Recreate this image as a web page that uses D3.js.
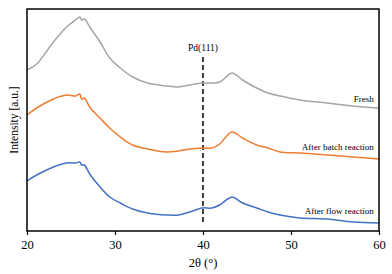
<!DOCTYPE html>
<html>
<head>
<meta charset="utf-8">
<script src="https://cdn.jsdelivr.net/npm/d3@7"></script>
<style>
  body { margin: 0; background: #fff; }
  svg text { font-family: "Times New Roman", "Liberation Serif", "DejaVu Serif", serif !important; }
</style>
</head>
<body>
<script>
// XRD patterns (intensity in arbitrary units)
const angles = [20, 21.1, 23.0, 24.5, 25.5, 26.0, 26.2, 26.5, 27.2, 28.3, 29.4, 30.6, 32.0, 33.7, 35.9,
                37.2, 38.5, 39.9, 41.0, 41.9, 42.5, 43.3, 44.5, 46.1, 47.4, 48.75, 51.0, 54.1, 57.0, 60]
const fresh = [161, 167, 189, 204, 211, 214, 211, 212, 203, 189, 173, 163, 154, 148, 145,
               144, 146, 148, 148, 149, 153, 158, 151, 143, 138, 135, 131, 128, 125, 123]
const batch = [116, 123, 132, 136, 135, 137, 132, 133, 123, 113, 103, 94, 86, 82, 79,
               80, 82, 83, 83, 87, 93, 99, 93, 86, 83, 79, 78, 76, 74, 72]
const flow = [50, 56, 64, 68, 68, 69, 66, 66, 56, 44, 34, 28, 22, 18, 16,
              16, 19, 23, 23, 26, 30, 34, 28, 23, 19, 16, 13, 12, 9, 8]
const seriesNames = ['Fresh', 'After batch reaction', 'After flow reaction']
const seriesColors = ['#a6a6a6', '#ed7d31', '#4472c4']
const labelLevels = [129, 81, 17]
const xTicks = [20, 30, 40, 50, 60]
const pdPeak = 40

const width = 392, height = 274
const margin = {top: 9, right: 13, bottom: 43, left: 27}

const svg = d3.select('body').append('svg')
  .attr('width', width)
  .attr('height', height)

const x = d3.scaleLinear()
  .domain([20, 60])
  .range([margin.left, width - margin.right])

const y = d3.scaleLinear()
  .domain([0, 222])
  .range([height - margin.bottom, margin.top])

const line = d3.line()
  .x(function (d) { return x(d[0]) })
  .y(function (d) { return y(d[1]) })
  .curve(d3.curveCatmullRom.alpha(0.5))

const allSeries = [fresh, batch, flow]

// dashed Pd(111) marker
svg.append('line')
  .attr('x1', x(pdPeak)).attr('x2', x(pdPeak))
  .attr('y1', y(174)).attr('y2', y(8))
  .attr('stroke', '#000')
  .attr('stroke-width', 1.5)
  .attr('stroke-dasharray', '5,3')

svg.append('text')
  .attr('x', x(pdPeak))
  .attr('y', y(180))
  .attr('text-anchor', 'middle')
  .attr('font-size', 9.5)
  .text('Pd(111)')

svg.selectAll('path.xrd')
  .data(allSeries)
  .enter()
  .append('path')
  .attr('class', 'xrd')
  .attr('fill', 'none')
  .attr('stroke', function (d, i) { return seriesColors[i] })
  .attr('stroke-width', 1.5)
  .attr('d', function (d) {
    return line(angles.map(function (a, j) { return [a, d[j]] }))
  })

svg.selectAll('text.name')
  .data(seriesNames)
  .enter()
  .append('text')
  .attr('class', 'name')
  .attr('x', x(59.4))
  .attr('y', function (d, i) { return y(labelLevels[i]) })
  .attr('text-anchor', 'end')
  .attr('font-size', 9)
  .text(function (d) { return d })

// frame
svg.append('rect')
  .attr('x', margin.left)
  .attr('y', margin.top)
  .attr('width', width - margin.left - margin.right)
  .attr('height', height - margin.top - margin.bottom)
  .attr('fill', 'none')
  .attr('stroke', '#000')
  .attr('stroke-width', 1.5)

const xAxis = svg.append('g')
  .attr('transform', 'translate(0,' + (height - margin.bottom) + ')')
  .call(d3.axisBottom(x).tickValues(xTicks).tickSize(4).tickSizeOuter(0).tickPadding(5))
xAxis.select('.domain').remove()
xAxis.selectAll('line').attr('stroke-width', 1.2)
xAxis.selectAll('text')
  .attr('font-size', 12.5)
  .attr('fill', '#000')

svg.append('text')
  .attr('x', x(40))
  .attr('y', 267)
  .attr('text-anchor', 'middle')
  .attr('font-size', 12.5)
  .text('2θ (°)')

svg.append('text')
  .attr('transform', 'translate(18,' + ((margin.top + height - margin.bottom) / 2) + ') rotate(-90)')
  .attr('text-anchor', 'middle')
  .attr('font-size', 11.5)
  .text('Intensity [a.u.]')
</script>
</body>
</html>
